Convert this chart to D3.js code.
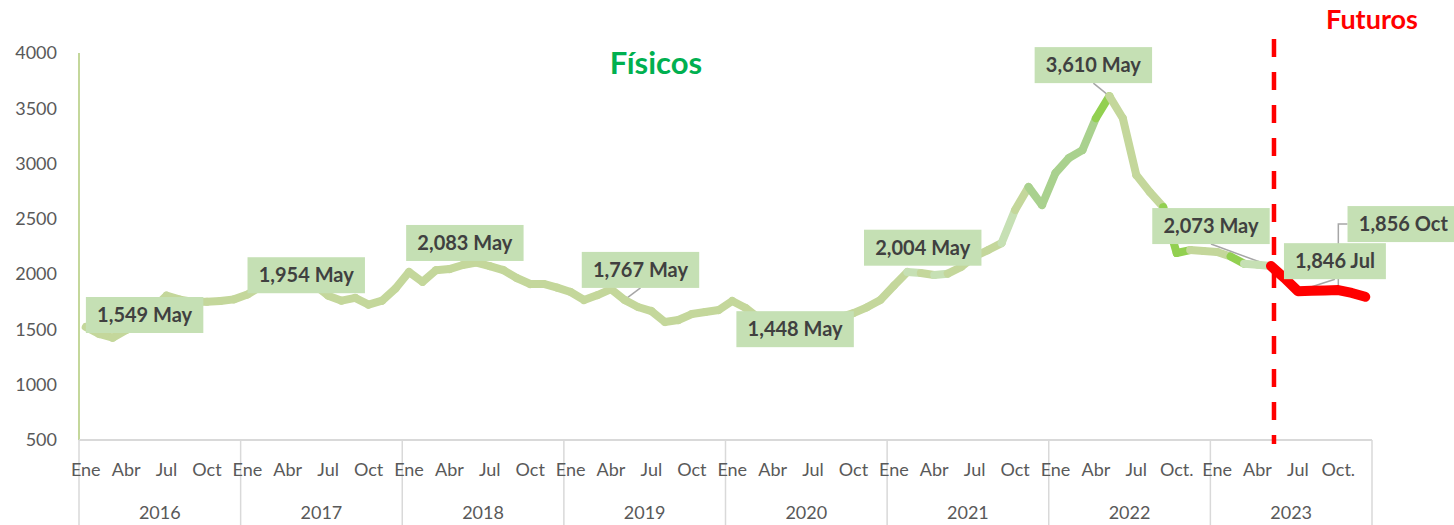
<!DOCTYPE html>
<html>
<head>
<meta charset="utf-8">
<script src="https://cdn.jsdelivr.net/npm/d3@7"></script>
<style>
  body { margin: 0; background: #fff; }
  #chart text { font-family: Lato, "Open Sans", sans-serif; }
</style>
</head>
<body>
<div id="chart"></div>
<script>
// ---- datos ----
const years = [2016, 2017, 2018, 2019, 2020, 2021, 2022, 2023];
const monthNames = ["Ene", "Feb", "Mar", "Abr", "May", "Jun", "Jul", "Ago", "Sep", "Oct", "Nov", "Dic"];
const tickMonths = [0, 3, 6, 9];
const tickLabels = [
    ["Ene", "Abr", "Jul", "Oct"],
    ["Ene", "Abr", "Jul", "Oct"],
    ["Ene", "Abr", "Jul", "Oct"],
    ["Ene", "Abr", "Jul", "Oct"],
    ["Ene", "Abr", "Jul", "Oct"],
    ["Ene", "Abr", "Jul", "Oct"],
    ["Ene", "Abr", "Jul", "Oct."],
    ["Ene", "Abr", "Jul", "Oct."]
];
const yTicks = [500, 1000, 1500, 2000, 2500, 3000, 3500, 4000];

// precios físicos, Ene 2016 - May 2023
const fisicos = [
    1522, 1459, 1425, 1495, 1549, 1690, 1805, 1770, 1748, 1750, 1757, 1772,
    1815, 1890, 1940, 1950, 1954, 1900, 1805, 1760, 1785, 1725, 1760, 1870,
    2020, 1930, 2035, 2046, 2083, 2105, 2073, 2037, 1965, 1911, 1911, 1878,
    1838, 1766, 1811, 1865, 1767, 1703, 1666, 1567, 1585, 1639, 1657, 1676,
    1757, 1694, 1600, 1500, 1448, 1470, 1520, 1560, 1610, 1648, 1700, 1766,
    1895, 2019, 2010, 1992, 2004, 2065, 2160, 2218, 2281, 2580, 2788, 2625,
    2915, 3050, 3122, 3410, 3610, 3410, 2896, 2743, 2607, 2191, 2218, 2210,
    2200, 2160, 2095, 2085, 2073
];
// futuros, May - Dic 2023
const futuros = [2073, 1965, 1846, 1850, 1853, 1856, 1830, 1795];
const futurosStart = 88;

// puntos con etiqueta
const labelPoints = [4, 16, 28, 40, 52, 64, 76, 88, 90, 93];

// ---- estilo ----
const labelOffsets = [[5, -9], [5, -4], [2, -22], [16, -30], [9, -6], [-25, -26], [-16, -31], [-60, -40], [37, -30], [65, -66]];
const elbowLabels = [93];
const baseGreen = "#C4D79B";
const shades = {
    61: "#C6E0B4", 63: "#C6E0B4", 68: "#C6E0B4",
    70: "#A9D18E", 71: "#A9D18E", 72: "#A9D18E", 73: "#A9D18E", 74: "#A9D18E",
    75: "#92D050", 80: "#92D050", 81: "#92D050", 85: "#92D050",
    86: "#C6E0B4", 87: "#C6E0B4"
};

const width = 1454, height = 525;
const plotLeft = 79, plotRight = 1372, plotTop = 53, plotBottom = 440;

const svg = d3.select("#chart").append("svg")
    .attr("width", width)
    .attr("height", height);

svg.append("rect").attr("width", width).attr("height", height).attr("fill", "#fff");

const monthIdx = d3.range(years.length * 12);
const x = d3.scaleBand().domain(monthIdx).range([plotLeft, plotRight]);
const xc = i => x(i) + x.bandwidth() / 2;
const xYear = d3.scaleBand().domain(years).range([plotLeft, plotRight]);
const y = d3.scaleLinear().domain([500, 4000]).range([plotBottom, plotTop]);

function valueAt(i) {
    return i < fisicos.length ? fisicos[i] : futuros[i - futurosStart];
}

// eje Y
const yAxis = svg.append("g")
    .attr("transform", `translate(${plotLeft},0)`)
    .call(d3.axisLeft(y).tickValues(yTicks).tickSize(0).tickPadding(22).tickFormat(d3.format("d")));
yAxis.select(".domain").remove();
yAxis.selectAll("text")
    .attr("fill", "#595959")
    .style("font-size", "18px");

svg.append("line")
    .attr("x1", plotLeft).attr("x2", plotLeft)
    .attr("y1", y(4000)).attr("y2", plotBottom)
    .attr("stroke", baseGreen)
    .attr("stroke-width", 2);

// eje X
svg.append("line")
    .attr("x1", plotLeft).attr("x2", plotRight)
    .attr("y1", plotBottom).attr("y2", plotBottom)
    .attr("stroke", "#D9D9D9")
    .attr("stroke-width", 2);

const bounds = years.map(yr => xYear(yr)).concat([plotRight]);
svg.selectAll(".ydiv").data(bounds).enter().append("line")
    .attr("x1", d => d).attr("x2", d => d)
    .attr("y1", plotBottom).attr("y2", height)
    .attr("stroke", "#D9D9D9")
    .attr("stroke-width", 1.5);

years.forEach((yr, yi) => {
    tickMonths.forEach((m, k) => {
        svg.append("text")
            .attr("x", xc(yi * 12 + m))
            .attr("y", 476)
            .attr("text-anchor", "middle")
            .attr("fill", "#595959")
            .style("font-size", "18px")
            .text(tickLabels[yi][k]);
    });
    svg.append("text")
        .attr("x", xYear(yr) + xYear.bandwidth() / 2)
        .attr("y", 519)
        .attr("text-anchor", "middle")
        .attr("fill", "#595959")
        .style("font-size", "18px")
        .text(yr);
});

// línea divisoria de futuros
svg.append("line")
    .attr("x1", xc(futurosStart) + 3).attr("x2", xc(futurosStart) + 3)
    .attr("y1", plotTop - 14).attr("y2", plotBottom + 4)
    .attr("stroke", "#FF0000")
    .attr("stroke-width", 4.5)
    .attr("stroke-dasharray", "18,15");

// serie físicos, tramo por tramo
for (let i = 0; i < fisicos.length - 1; i++) {
    svg.append("line")
        .attr("x1", xc(i)).attr("y1", y(fisicos[i]))
        .attr("x2", xc(i + 1)).attr("y2", y(fisicos[i + 1]))
        .attr("stroke", shades[i] || baseGreen)
        .attr("stroke-width", 8)
        .attr("stroke-linecap", "round");
}

// serie futuros
svg.append("path")
    .datum(futuros)
    .attr("d", d3.line().x((d, i) => xc(futurosStart + i)).y(d => y(d)))
    .attr("fill", "none")
    .attr("stroke", "#FF0000")
    .attr("stroke-width", 10)
    .attr("stroke-linejoin", "round")
    .attr("stroke-linecap", "round");

// etiquetas
const fmt = d3.format(",");
labelPoints.forEach((i, k) => {
    const px = xc(i), py = y(valueAt(i));
    const cx = px + labelOffsets[k][0], cy = py + labelOffsets[k][1];
    const g = svg.append("g");
    const t = g.append("text")
        .attr("x", cx).attr("y", cy)
        .attr("dy", ".35em")
        .attr("text-anchor", "middle")
        .attr("fill", "#404040")
        .style("font-size", "20px")
        .style("font-weight", "bold")
        .text(fmt(valueAt(i)) + " " + monthNames[i % 12]);
    const w = t.node().getBBox().width + 22, h = 36;
    const bx = cx - w / 2, by = cy - h / 2;

    if (elbowLabels.includes(i)) {
        svg.insert("path", "g")
            .attr("d", `M${px},${py}V${cy}H${bx}`)
            .attr("fill", "none")
            .attr("stroke", "#A6A6A6")
            .attr("stroke-width", 1.5);
    } else if (py - (by + h) > 10) {
        svg.insert("line", "g")
            .attr("x1", px).attr("y1", py)
            .attr("x2", cx).attr("y2", by + h)
            .attr("stroke", "#A6A6A6")
            .attr("stroke-width", 1.5);
    }

    g.insert("rect", "text")
        .attr("x", bx).attr("y", by)
        .attr("width", w).attr("height", h)
        .attr("fill", "#C5E0B4");
});

// títulos
svg.append("text")
    .attr("x", 656).attr("y", 74)
    .attr("text-anchor", "middle")
    .attr("fill", "#00B050")
    .style("font-size", "31px")
    .style("font-weight", "bold")
    .text("Físicos");

svg.append("text")
    .attr("x", 1372).attr("y", 29)
    .attr("text-anchor", "middle")
    .attr("fill", "#FF0000")
    .style("font-size", "27px")
    .style("font-weight", "bold")
    .text("Futuros");
</script>
</body>
</html>
